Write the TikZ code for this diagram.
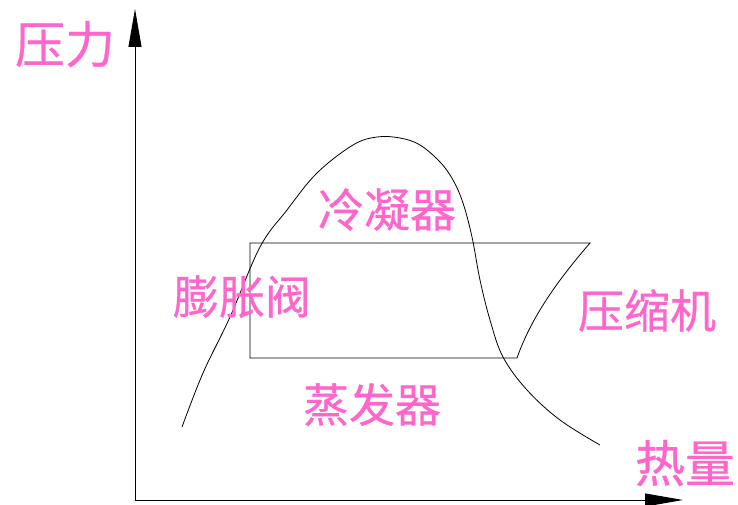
\documentclass[tikz,border=0pt]{standalone}
\usepackage{fontspec}
\newfontfamily\cjk[FakeBold=0.6]{Noto Sans CJK SC}
\usetikzlibrary{arrows.meta}
\definecolor{labelpink}{HTML}{FF66CC}
\begin{document}
\begin{tikzpicture}[x=1pt,y=-1pt,
  lbl/.style={inner sep=0pt,anchor=base,text=labelpink,font=\cjk\fontsize{46}{50}\selectfont},
  axlbl/.style={inner sep=0pt,anchor=base,text=labelpink,font=\cjk\fontsize{50}{54}\selectfont},
  axis/.style={line width=0.9pt,-{Triangle[length=38pt,width=13pt]}},
  thin/.style={line width=0.8pt}]
\useasboundingbox (0,0) rectangle (738,505);
\coordinate (O) at (135,500);
\coordinate (Ytip) at (135,9);
\coordinate (Xtip) at (683,500);
\draw[axis] (O) -- (Ytip);
\draw[axis] (O) -- (Xtip);
% saturation curve
\draw[thin] plot[smooth,tension=0.6] coordinates {(182,427) (203,373) (230,317) (260,247) (287,210) (317,173) (353,145) (377,137) (400,138) (420,145) (440,162) (453,180) (463,203) (472,237) (480,280) (490,320) (503,357) (527,390) (560,420) (600,445)};
% cycle
\coordinate (A) at (250,243);
\coordinate (B) at (590,243);
\coordinate (C) at (517,358);
\coordinate (D) at (250,358);
\draw[thin] (A) -- (B) .. controls (565,272) and (533,312) .. (C) -- (D) -- cycle;
% labels
\node[axlbl] (p) at (65,63) {压力};
\node[axlbl] (q) at (685,482) {热量};
\node[lbl] (cond) at (387,227) {冷凝器};
\node[lbl] (exp) at (242,314) {膨胀阀};
\node[lbl] (evap) at (372,422) {蒸发器};
\node[lbl] (comp) at (647,328) {压缩机};
\end{tikzpicture}
\end{document}
